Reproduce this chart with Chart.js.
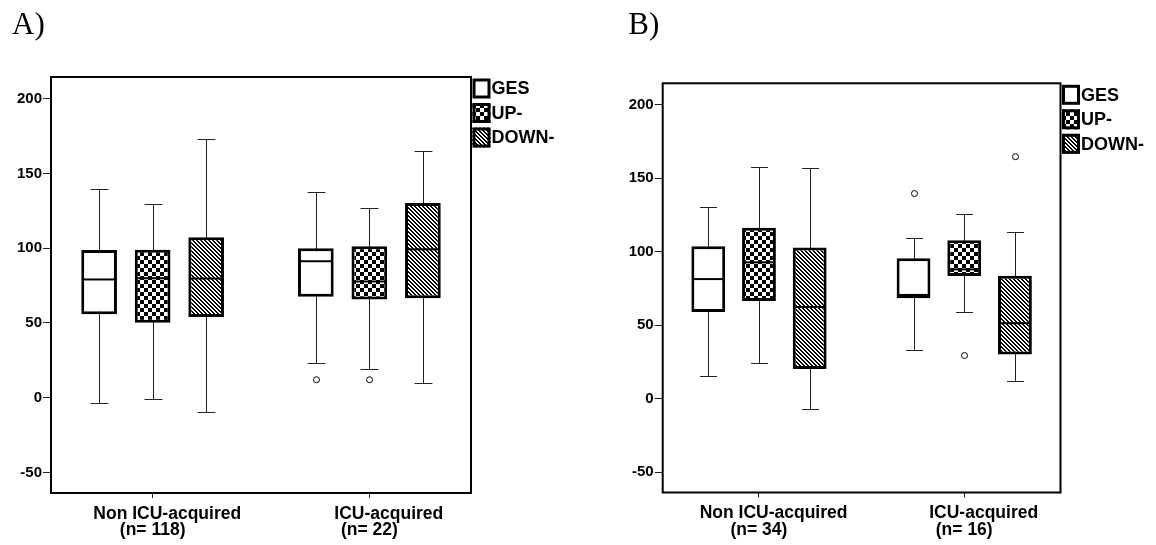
<!DOCTYPE html>
<html><head><meta charset="utf-8">
<script src="https://cdn.jsdelivr.net/npm/chart.js@4.4.0/dist/chart.umd.min.js"></script>
<style>
html,body{margin:0;padding:0;background:#fff;}
#wrap{position:relative;width:1156px;height:545px;overflow:hidden;background:#fff;}
canvas{position:absolute;top:0;}
#cA{left:0;} #cB{left:578px;}
</style></head><body>
<div id="wrap"><canvas id="cA" width="578" height="545"></canvas><canvas id="cB" width="578" height="545"></canvas></div>
<script>
// ---------- data ----------
const categories = ['Non ICU-acquired', 'ICU-acquired'];
const seriesNames = ['GES', 'UP-', 'DOWN-'];
const panelTitles = ['A)', 'B)'];
const panelA_counts = ['(n= 118)', '(n= 22)'];
const panelB_counts = ['(n= 34)', '(n= 16)'];
const yTickValues = [-50, 0, 50, 100, 150, 200];
const yRange = [-63.8, 214.6];
// [min, q1, median, q3, max] per category (Non ICU-acquired, ICU-acquired)
const panelA_GES  = [[-3.6, 55.8, 79.1, 98.9, 139.7], [22.9, 67.5, 91.3, 100.0, 137.4]];
const panelA_UP   = [[-0.7, 50.2, 80.0, 99.0, 129.8], [19.3, 65.7, 77.8, 101.3, 127.1]];
const panelA_DOWN = [[-9.8, 54.0, 79.8, 107.4, 172.9], [9.6, 66.6, 99.3, 130.3, 165.2]];
const panelA_outGES  = [[], [12]];
const panelA_outUP   = [[], [12]];
const panelA_outDOWN = [[], []];
const panelB_GES  = [[15.8, 59.0, 81.4, 103.8, 130.5], [33.0, 68.3, 70.6, 95.5, 109.3]];
const panelB_UP   = [[24.0, 66.5, 92.8, 116.3, 157.5], [59.3, 83.5, 88.0, 107.9, 125.6]];
const panelB_DOWN = [[-7.1, 20.3, 62.4, 102.9, 157.0], [12.1, 30.1, 51.4, 83.7, 113.6]];
const panelB_outGES  = [[], [139.6]];
const panelB_outUP   = [[], [29.4]];
const panelB_outDOWN = [[], [164.7]];

// ---------- helpers ----------
function makeFill(ctx, kind) {
  if (kind === 'plain') return '#ffffff';
  const c = document.createElement('canvas');
  const s = 8;
  c.width = s; c.height = s;
  const g = c.getContext('2d');
  g.fillStyle = '#fff'; g.fillRect(0, 0, s, s);
  g.fillStyle = '#000';
  if (kind === 'check') {
    g.fillRect(0, 0, 4, 4); g.fillRect(4, 4, 4, 4);
  } else {
    for (let i = 0; i < s; i++) for (let j = 0; j < s; j++)
      if ((((i - j) % 4) + 4) % 4 < 2) g.fillRect(i, j, 1, 1);
  }
  return ctx.createPattern(c, 'repeat');
}
const fillKinds = ['plain', 'check', 'hatch'];
const labelShift = [6, 8]; // leading spaces on first label line

function buildPanel(canvasId, title, stats, outliers, counts, geo) {
  const canvas = document.getElementById(canvasId);
  const ctx = canvas.getContext('2d');
  const fills = fillKinds.map(k => makeFill(ctx, k));
  const datasets = seriesNames.map((name, s) => ({
    label: name,
    data: categories.map((c, i) => ({ x: i, y: [stats[s][i][1], stats[s][i][3]] })),
    backgroundColor: fills[s],
    borderColor: '#000',
    borderWidth: 3,
    borderSkipped: false,
    categoryPercentage: 0.741,
    barPercentage: 0.667
  }));

  const boxPlugin = {
    id: 'boxParts',
    beforeDatasetsDraw(chart) {
      const c = chart.ctx, ys = chart.scales.y;
      c.save();
      c.strokeStyle = '#222'; c.lineWidth = 1;
      stats.forEach((ser, s) => {
        const meta = chart.getDatasetMeta(s);
        ser.forEach((st, i) => {
          const bar = meta.data[i];
          const x = Math.round(bar.x) + 0.5;
          const cap = bar.width * 0.25;
          const yMin = Math.round(ys.getPixelForValue(st[0])) + 0.5;
          const yMax = Math.round(ys.getPixelForValue(st[4])) + 0.5;
          c.beginPath();
          c.moveTo(x, yMin); c.lineTo(x, yMax);
          c.moveTo(x - cap, yMin); c.lineTo(x + cap, yMin);
          c.moveTo(x - cap, yMax); c.lineTo(x + cap, yMax);
          c.stroke();
        });
      });
      c.restore();
    },
    afterDatasetsDraw(chart) {
      const c = chart.ctx, ys = chart.scales.y;
      c.save();
      stats.forEach((ser, s) => {
        const meta = chart.getDatasetMeta(s);
        ser.forEach((st, i) => {
          const bar = meta.data[i];
          const half = bar.width / 2;
          const ym = ys.getPixelForValue(st[2]);
          c.strokeStyle = '#000'; c.lineWidth = 2;
          c.beginPath(); c.moveTo(bar.x - half + 2, ym); c.lineTo(bar.x + half - 2, ym); c.stroke();
          outliers[s][i].forEach(v => {
            const yo = ys.getPixelForValue(v);
            c.beginPath(); c.arc(Math.round(bar.x) + 0.5, yo, 3, 0, Math.PI * 2);
            c.fillStyle = '#fff'; c.fill();
            c.lineWidth = 1; c.strokeStyle = '#000'; c.stroke();
          });
        });
      });
      c.restore();
    },
    afterDraw(chart) {
      const c = chart.ctx, a = chart.chartArea;
      c.save();
      // frame
      c.strokeStyle = '#000'; c.lineWidth = 2;
      c.strokeRect(a.left, a.top, a.right - a.left, a.bottom - a.top);
      // legend
      const bx = a.right + 1.5, bw = 18, bh = 20, pitch = 24.5;
      c.font = 'bold 18px "Liberation Sans", Arial, sans-serif';
      c.textBaseline = 'middle'; c.textAlign = 'left';
      chart.data.datasets.forEach((ds, s) => {
        const by = a.top + 1.5 + s * pitch;
        c.fillStyle = ds.backgroundColor;
        c.fillRect(bx, by, bw, bh);
        c.lineWidth = 3; c.strokeStyle = '#000';
        c.strokeRect(bx + 1.5, by + 1.5, bw - 3, bh - 3);
        c.fillStyle = '#000';
        c.fillText(ds.label, bx + bw + 1, by + bh / 2 + 1);
      });
      c.restore();
    }
  };

  return new Chart(ctx, {
    type: 'bar',
    data: { datasets },
    plugins: [boxPlugin],
    options: {
      responsive: false,
      devicePixelRatio: 1,
      animation: false,
      events: [],
      layout: { padding: { left: geo.padLeft, right: geo.padRight, top: 0, bottom: geo.padBottom } },
      plugins: {
        legend: { display: false },
        tooltip: { enabled: false },
        title: {
          display: true, text: title, align: 'start', color: '#000',
          font: { family: '"Liberation Serif", "Times New Roman", serif', size: 31, weight: 'normal', lineHeight: 1.2 },
          padding: { top: 7, bottom: geo.titleBottom }
        }
      },
      scales: {
        x: {
          type: 'linear', min: -0.469, max: 1.469, offset: false,
          afterBuildTicks: sc => { sc.ticks = categories.map((c, i) => ({ value: i })); },
          afterFit: sc => { sc.height = geo.xHeight; },
          ticks: {
            autoSkip: false, maxRotation: 0, minRotation: 0, color: '#000', padding: 7.6,
            font: { family: '"Liberation Sans", Arial, sans-serif', size: 17.5, weight: 'bold', lineHeight: '16.5px' },
            callback: v => [' '.repeat(labelShift[v]) + categories[v], counts[v]]
          },
          grid: { drawOnChartArea: false, drawTicks: true, tickLength: 5, color: '#222', lineWidth: 1, offset: false },
          border: { display: false }
        },
        y: {
          min: yRange[0], max: yRange[1],
          afterBuildTicks: sc => { sc.ticks = yTickValues.map(v => ({ value: v })); },
          afterFit: sc => { sc.width = geo.yWidth; },
          ticks: {
            color: '#000', padding: 1,
            font: { family: '"Liberation Sans", Arial, sans-serif', size: 15, weight: 'bold' },
            callback: v => String(v)
          },
          grid: { drawOnChartArea: false, drawTicks: true, tickLength: 8, color: '#222', lineWidth: 1 },
          border: { display: false }
        }
      }
    }
  });
}

buildPanel('cA', panelTitles[0], [panelA_GES, panelA_UP, panelA_DOWN],
  [panelA_outGES, panelA_outUP, panelA_outDOWN], panelA_counts,
  { padLeft: 12, padRight: 107, padBottom: 0, yWidth: 39, xHeight: 52, titleBottom: 32.8 });
buildPanel('cB', panelTitles[1], [panelB_GES, panelB_UP, panelB_DOWN],
  [panelB_outGES, panelB_outUP, panelB_outDOWN], panelB_counts,
  { padLeft: 50.3, padRight: 95.5, padBottom: 0, yWidth: 34.4, xHeight: 52.5, titleBottom: 39.1 });
</script>
</body></html>
